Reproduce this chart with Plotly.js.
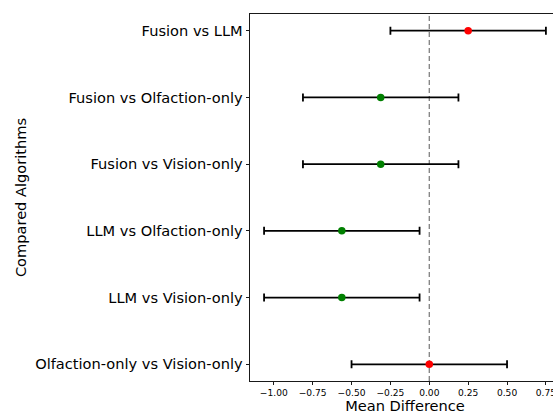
<!DOCTYPE html>
<html>
<head>
<meta charset="utf-8">
<script src="https://cdn.plot.ly/plotly-3.0.1.min.js"></script>
<style>
html, body { margin: 0; padding: 0; overflow: hidden; background: #fff; }
#chart { width: 561px; height: 414px; }
</style>
</head>
<body>
<div id="chart"></div>
<script>
const comparisons = [
  "Fusion vs LLM",
  "Fusion vs Olfaction-only",
  "Fusion vs Vision-only",
  "LLM vs Olfaction-only",
  "LLM vs Vision-only",
  "Olfaction-only vs Vision-only"
];
const meanDiff = [0.25, -0.3125, -0.3125, -0.5625, -0.5625, 0.0];
const ciHalfWidth = [0.5, 0.5, 0.5, 0.5, 0.5, 0.5];
const significant = [false, true, true, true, true, false];
const xTickVals = [-1.0, -0.75, -0.5, -0.25, 0.0, 0.25, 0.5, 0.75];
const xTickText = ["\u22121.00", "\u22120.75", "\u22120.50", "\u22120.25", "0.00", "0.25", "0.50", "0.75"];
const refLine = 0;

const colors = significant.map(s => s ? "#008000" : "#ff0000");

const trace = {
  type: "scatter",
  mode: "markers",
  x: meanDiff,
  y: comparisons,
  marker: { color: colors, size: 7.5 },
  error_x: {
    type: "data",
    array: ciHalfWidth,
    symmetric: true,
    color: "#000000",
    thickness: 1.8,
    width: 4
  },
  hoverinfo: "x+y",
  showlegend: false
};

const layout = {
  width: 561,
  height: 414,
  margin: { l: 250, r: 1, t: 14, b: 33 },
  paper_bgcolor: "#ffffff",
  plot_bgcolor: "#ffffff",
  font: { family: "DejaVu Sans, sans-serif", color: "#000000" },
  xaxis: {
    range: [-1.153, 0.8406],
    tickvals: xTickVals,
    ticktext: xTickText,
    tickfont: { size: 9.1, color: "#000000" },
    ticks: "outside",
    ticklen: 3.5,
    tickwidth: 0.9,
    tickcolor: "#000000",
    showgrid: false,
    zeroline: false,
    showline: true,
    linecolor: "#000000",
    linewidth: 0.9,
    mirror: true,
    title: { text: "Mean Difference", font: { size: 14.6, color: "#000000" }, standoff: 5 }
  },
  yaxis: {
    type: "category",
    categoryorder: "array",
    categoryarray: comparisons,
    range: [5.25, -0.25],
    tickfont: { size: 14.6, color: "#000000" },
    ticks: "outside",
    ticklen: 3.5,
    tickwidth: 0.9,
    tickcolor: "#000000",
    showgrid: false,
    zeroline: false,
    showline: true,
    linecolor: "#000000",
    linewidth: 0.9,
    mirror: true,
    title: { text: "Compared Algorithms", font: { size: 14.6, color: "#000000" }, standoff: 5 }
  },
  shapes: [{
    type: "line",
    xref: "x", yref: "paper",
    x0: refLine, x1: refLine, y0: 0, y1: 1,
    line: { color: "#808080", width: 1.3, dash: "5px,3px" },
    layer: "below"
  }]
};

Plotly.newPlot("chart", [trace], layout, { displayModeBar: false, staticPlot: true });
</script>
</body>
</html>
